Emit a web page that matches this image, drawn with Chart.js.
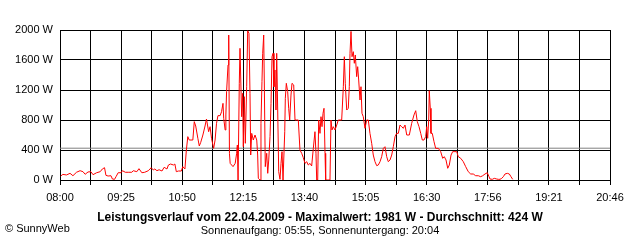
<!DOCTYPE html>
<html><head><meta charset="utf-8">
<script src="https://cdn.jsdelivr.net/npm/chart.js@4/dist/chart.umd.min.js"></script>
<style>html,body{margin:0;padding:0;background:#fff}</style>
</head><body>
<canvas id="c" width="640" height="240"></canvas>
<script>
// Time in minutes since midnight
const times = [
481,484,489,494,498,503,508,512,515,519,523,526,531,536,539,542,544,547,551,553,556,558,561,565,567,571,575,580,582,587,590,594,598,603,607,610,612,615,618,622,625,629,631,634,638,640,642,645,649,651,654,656,658,660,665,667,669,672,674,676,679,682,684,687,689,691,694,696,698,700,703,705,707,708,710,711,712,714,715,716,717,719,721,724,726,727,728,
729.7,730.7,733,734.4,735.3,736.7,738.1,740,741.4,743.2,744.6,745.6,747,749.2,751.6,754,755.3,756.2,758.6,759.9,761.3,762.3,763.7,764.5,765.9,767.9,769.3,770.7,772.5,773.9,775.3,776.7,778,779.4,780.8,781.8,783.2,784.6,786.4,787.8,789.2,790.6,793,793.8,795.2,797.1,798.5,799.9,801.7,803.1,805.5,807.3,809.6,811.9,814.2,816.6,818.8,821.2,823.6,825.8,828.2,830.5,832.8,835.1,836.5,837.5,838.9,840.3,842.1,843.5,844.9,846.3,847.7,849.1,850,856,857.4,858.8,860.6,863,865.4,867.6,870,872.3,874.6,876,877.3,879.3,881.5,882.9,883.9,885.3,886.7,888.5,889.9,891.3,893.2,894.6,896,897.8,899.2,900.6,902.4,904.8,907.1,909.4,911.7,914.1,916.3,918.7,921.1,923.3,925.7,928,930.3,932.6,935,937.2,939.6,942,944.2,946.6,948.9,951.2,953.5,955.9,958.1,960.5,962.9,966.5,969.8,973,975.4,977.6,980,982.4,984.6,986.9,989.3,990.7,992.1,993.5,994.3,995.7,996.7,998.5,1000.9,1003.2,1006.9,1010.2,1013,1015.2,1017.6,1020,1022.2,1024.6,1026.9,1030.1,1032.5,1034.7,1038.1,1041.7,1045,1048.6,1052,1055.6,1058.9,1062.6,1065.9,1068.7,1071.9,1075.1,1077.5,1078.9,1082.1,1084.9,1088.2,1090.4,1092.8,1095.2,1097.4,1099.8,1103,1105.8,1108.1,1110.5
];
// Power in W
const watts = [
53,75,67,89,57,103,124,111,76,107,111,71,97,111,147,164,62,53,57,13,9,44,97,97,124,103,103,103,124,111,151,97,103,124,164,133,147,124,137,120,169,147,200,213,200,213,111,120,120,178,147,400,578,533,533,778,720,556,453,502,600,720,813,644,711,556,422,533,756,858,858,911,1022,822,667,867,1178,1533,1933,356,222,200,178,222,356,467,0,
1289,1756,844,1156,444,1111,489,1244,1990,1956,1156,333,622,533,600,533,333,22,0,756,1311,1689,1933,1333,178,356,89,267,578,1022,1644,1689,1244,1467,933,1689,933,111,9,222,378,0,644,1089,1289,1178,956,800,1133,1289,1267,800,800,800,400,356,300,222,244,200,222,187,422,644,356,0,0,800,622,844,711,889,956,356,0,0,800,667,711,667,733,800,800,800,1244,1644,1289,933,956,1244,1689,1981,1644,1711,1556,1667,1378,1511,1333,1067,1244,889,844,689,800,800,622,489,333,244,191,200,244,311,422,444,311,244,267,333,444,578,622,622,733,711,689,733,600,600,756,867,924,778,711,622,533,533,578,711,556,800,1191,956,622,622,511,422,422,378,289,311,267,156,200,333,378,378,378,311,289,244,178,111,80,80,57,57,44,57,80,97,44,13,9,22,13,9,9,22,44,80,89,80,44,9
];
const averageW = 424;
const xStart = 480, xEnd = 1246;
const xTickLabels = ['08:00','09:25','10:50','12:15','13:40','15:05','16:30','17:56','19:21','20:46'];
const yMax = 2000, yStep = 400;
const titleText = 'Leistungsverlauf vom 22.04.2009 - Maximalwert: 1981 W - Durchschnitt: 424 W';
const subtitleText = 'Sonnenaufgang: 05:55, Sonnenuntergang: 20:04';
const footerText = '\u00A9 SunnyWeb';

Chart.defaults.font.family = "'Liberation Sans', Arial, sans-serif";
Chart.defaults.font.size = 11;
Chart.defaults.color = '#000';

const footerPlugin = {
  id: 'footerText',
  afterDraw(chart) {
    const ctx = chart.ctx;
    ctx.save();
    ctx.font = "11px 'Liberation Sans', Arial, sans-serif";
    ctx.fillStyle = '#000';
    ctx.textAlign = 'left';
    ctx.textBaseline = 'middle';
    ctx.fillText(footerText, 5, 229);
    ctx.restore();
  }
};

new Chart(document.getElementById('c'), {
  type: 'line',
  data: {
    datasets: [
      {
        data: times.map((t, i) => ({x: t, y: watts[i]})),
        borderColor: '#ff0000', borderWidth: 1, pointRadius: 0, tension: 0, fill: false
      },
      {
        data: [{x: xStart, y: averageW}, {x: xEnd, y: averageW}],
        borderColor: '#808080', borderWidth: 1, pointRadius: 0, tension: 0, fill: false
      }
    ]
  },
  options: {
    responsive: false,
    animation: false,
    devicePixelRatio: 1,
    layout: { padding: { top: 30, right: 15, bottom: 2.4, left: 15 } },
    plugins: {
      legend: { display: false },
      tooltip: { enabled: false },
      title: { display: true, text: titleText, position: 'bottom', weight: 1000,
               font: { weight: 'bold', size: 12 }, padding: { top: 0, bottom: 0 } },
      subtitle: { display: true, text: subtitleText, position: 'bottom', weight: 1500,
                  font: { size: 11 }, padding: { top: 0, bottom: 0 } }
    },
    scales: {
      x: {
        type: 'linear', min: xStart, max: xEnd,
        afterBuildTicks(scale) {
          const n = (xTickLabels.length - 1) * 2;
          const ticks = [];
          for (let i = 0; i <= n; i++) ticks.push({ value: xStart + (xEnd - xStart) * i / n });
          scale.ticks = ticks;
        },
        afterFit(scale) { scale.height = 30; },
        ticks: {
          autoSkip: false, maxRotation: 0, padding: 6,
          callback: (v, i) => (i % 2 === 0 ? xTickLabels[i / 2] : '')
        },
        grid: { color: '#000', lineWidth: 1, drawTicks: true, tickLength: 5, tickColor: '#000' },
        border: { color: '#000', width: 1 }
      },
      y: {
        min: 0, max: yMax,
        afterFit(scale) { scale.width = 45; },
        ticks: { stepSize: yStep, padding: 7, callback: v => v + ' W' },
        grid: { color: '#000', lineWidth: 1, drawTicks: false },
        border: { color: '#000', width: 1 }
      },
      yRight: {
        position: 'right', min: 0, max: yMax,
        afterFit(scale) { scale.width = 15; },
        ticks: { display: false },
        grid: { display: false, drawTicks: false },
        border: { display: false }
      }
    }
  },
  plugins: [footerPlugin]
});
</script>
</body></html>
